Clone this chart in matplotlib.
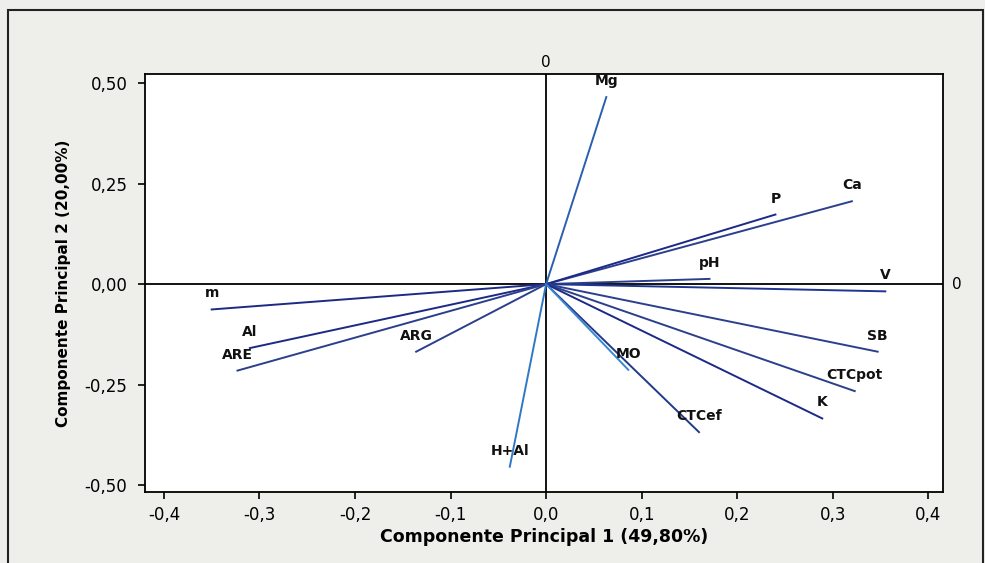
import matplotlib
matplotlib.use("Agg")
import matplotlib.pyplot as plt
from matplotlib.patches import Rectangle
from matplotlib.ticker import FuncFormatter

variables = ["Mg", "Ca", "P", "pH", "V", "SB", "CTCpot", "K", "CTCef", "MO",
             "m", "Al", "ARE", "ARG", "H+Al"]
pc1 = [0.063, 0.320, 0.240, 0.171, 0.355, 0.347, 0.323, 0.289, 0.160, 0.086,
       -0.350, -0.310, -0.323, -0.136, -0.038]
pc2 = [0.465, 0.206, 0.173, 0.013, -0.018, -0.168, -0.266, -0.334, -0.368, -0.213,
       -0.063, -0.159, -0.215, -0.168, -0.454]
line_colors = ["#2a5fae", "#2b3f8c", "#1c2a86", "#2b3f8c", "#1f3590", "#2b3f8c",
               "#2b3f8c", "#1c2a86", "#1f3a88", "#3a86d0",
               "#1c2a86", "#1c2a86", "#2b3f8c", "#2b3f8c", "#2f78c6"]

x_ticks = [-0.4, -0.3, -0.2, -0.1, 0.0, 0.1, 0.2, 0.3, 0.4]
y_ticks = [-0.50, -0.25, 0.00, 0.25, 0.50]
x_label = "Componente Principal 1 (49,80%)"
y_label = "Componente Principal 2 (20,00%)"

fig = plt.figure(figsize=(9.85, 5.63), dpi=100)
fig.patch.set_facecolor("#eeeeea")
fig.patches.append(Rectangle((0.008, -0.01), 0.99, 0.992, transform=fig.transFigure,
                             fill=False, edgecolor="#222222", linewidth=1.5))
ax = fig.add_axes([0.147, 0.126, 0.810, 0.743])
ax.set_facecolor("white")

ax.axhline(0, color="black", linewidth=1.3, zorder=1)
ax.axvline(0, color="black", linewidth=1.3, zorder=1)

for v, x, y, c in zip(variables, pc1, pc2, line_colors):
    ax.plot([0, x], [0, y], color=c, linewidth=1.4, zorder=2)
    ax.annotate(v, (x, y), xytext=(0, 11.5), textcoords="offset points",
                ha="center", va="center", fontsize=10, fontweight="bold",
                color="#111111", zorder=3)

ax.set_xlim(-0.42, 0.415)
ax.set_ylim(-0.517, 0.523)
ax.set_xticks(x_ticks)
ax.set_yticks(y_ticks)
ax.xaxis.set_major_formatter(FuncFormatter(lambda v, p: f"{v:.1f}".replace(".", ",").replace("-0,0", "0,0")))
ax.yaxis.set_major_formatter(FuncFormatter(lambda v, p: f"{v:.2f}".replace(".", ",").replace("-0,00", "0,00")))
ax.tick_params(direction="out", length=5, width=1.2, labelsize=12, color="black")
ax.tick_params(axis="x", pad=5)
ax.tick_params(axis="y", pad=7.5)
for s in ax.spines.values():
    s.set_linewidth(1.3)

ax.set_xlabel(x_label, fontsize=12.5, fontweight="bold", labelpad=3)
ax.set_ylabel(y_label, fontsize=11, fontweight="bold", labelpad=10)

ax.text(0, 1.01, "0", transform=ax.get_xaxis_transform(), ha="center", va="bottom", fontsize=11)
ax.text(1.012, 0, "0", transform=ax.get_yaxis_transform(), ha="left", va="center", fontsize=11)

fig.savefig("out.png", dpi=100, facecolor=fig.get_facecolor())
